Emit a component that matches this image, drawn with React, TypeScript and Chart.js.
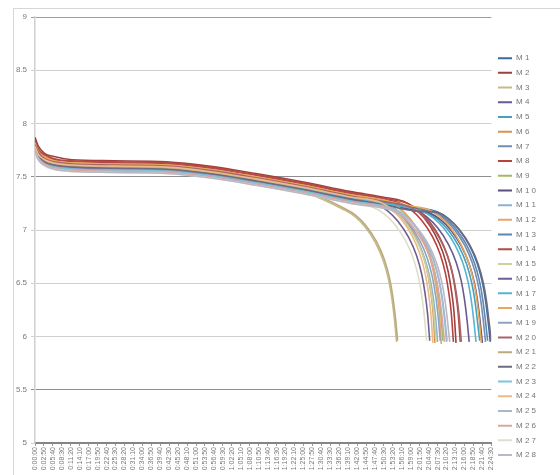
import React, { useEffect, useRef } from "react";
import { Chart, registerables } from "chart.js";

Chart.register(...registerables);

const SERIES_NAMES = [
  "M 1", "M 2", "M 3", "M 4", "M 5", "M 6", "M 7", "M 8", "M 9", "M 1 0",
  "M 1 1", "M 1 2", "M 1 3", "M 1 4", "M 1 5", "M 1 6", "M 1 7", "M 1 8", "M 1 9", "M 2 0",
  "M 2 1", "M 2 2", "M 2 3", "M 2 4", "M 2 5", "M 2 6", "M 2 7", "M 2 8",
];

const SERIES_COLORS = [
  "#3B6A9A", "#A0403C", "#C4BB8A", "#6B5A8E", "#4A9FBF", "#D9934A", "#6F8FB5", "#B8413E",
  "#A5B86A", "#5B4F7F", "#8BB2D2", "#E5A66B", "#5E87B3", "#B24A45", "#C8D49A", "#6E5E94",
  "#55B4CF", "#E8A85A", "#8EA3BF", "#A8646A", "#BCAA7C", "#6E6A80", "#7FC4D8", "#EDB98A",
  "#A9B7C9", "#D9A5A5", "#E0DEC8", "#B8B8C8",
];

const X_TICK_LABELS = [
  "0:00:00", "0:02:50", "0:05:40", "0:08:30", "0:11:20", "0:14:10", "0:17:00", "0:19:50",
  "0:22:40", "0:25:30", "0:28:20", "0:31:10", "0:34:00", "0:36:50", "0:39:40", "0:42:30",
  "0:45:20", "0:48:10", "0:51:00", "0:53:50", "0:56:40", "0:59:30", "1:02:20", "1:05:10",
  "1:08:00", "1:10:50", "1:13:40", "1:16:30", "1:19:20", "1:22:10", "1:25:00", "1:27:50",
  "1:30:40", "1:33:30", "1:36:20", "1:39:10", "1:42:00", "1:44:50", "1:47:40", "1:50:30",
  "1:53:20", "1:56:10", "1:59:00", "2:01:50", "2:04:40", "2:07:30", "2:10:20", "2:13:10",
  "2:16:00", "2:18:50", "2:21:40", "2:24:30",
];

const Y_MIN = 5;
const Y_MAX = 9;
const Y_STEP = 0.5;

// [elapsed seconds, voltage]
const M1 = [[0,7.85],[60,7.76],[180,7.69],[360,7.65],[700,7.62],[1500,7.61],[2500,7.60],[3300,7.56],[4200,7.49],[5100,7.41],[6000,7.32],[6600,7.27],[7200,7.21],[7650,7.17],[7850,7.11],[8050,7.01],[8250,6.86],[8400,6.69],[8500,6.51],[8560,6.34],[8610,6.14],[8650,5.95]];
const M2 = [[0,7.87],[60,7.79],[180,7.72],[360,7.69],[700,7.66],[1500,7.65],[2500,7.64],[3300,7.60],[4200,7.53],[5100,7.45],[6000,7.36],[6600,7.31],[7000,7.27],[7200,7.21],[7400,7.11],[7600,6.96],[7750,6.79],[7850,6.61],[7910,6.44],[7960,6.24],[8000,5.94]];
const M3 = [[0,7.78],[60,7.70],[180,7.65],[360,7.61],[700,7.59],[1500,7.58],[2500,7.57],[3300,7.53],[4200,7.46],[5100,7.36],[5870,7.19],[6070,7.13],[6270,7.03],[6470,6.88],[6620,6.71],[6720,6.53],[6780,6.36],[6830,6.16],[6870,5.95]];
const M4 = [[0,7.80],[60,7.72],[180,7.66],[360,7.62],[700,7.60],[1500,7.59],[2500,7.58],[3300,7.54],[4200,7.47],[5100,7.39],[6000,7.30],[6600,7.25],[7250,7.18],[7450,7.12],[7650,7.02],[7850,6.87],[8000,6.70],[8100,6.52],[8160,6.35],[8210,6.15],[8250,5.95]];
const M5 = [[0,7.79],[60,7.71],[180,7.65],[360,7.61],[700,7.59],[1500,7.58],[2500,7.57],[3300,7.53],[4200,7.46],[5100,7.38],[6000,7.29],[6600,7.24],[7200,7.18],[7450,7.16],[7650,7.10],[7850,7.00],[8050,6.85],[8200,6.68],[8300,6.50],[8360,6.33],[8410,6.13],[8450,5.96]];
const M6 = [[0,7.82],[60,7.74],[180,7.69],[360,7.65],[700,7.63],[1500,7.62],[2500,7.61],[3300,7.57],[4200,7.50],[5100,7.42],[6000,7.33],[6600,7.28],[6800,7.22],[7000,7.12],[7200,6.97],[7350,6.80],[7450,6.62],[7510,6.45],[7560,6.25],[7600,5.94]];
const M7 = [[0,7.80],[60,7.72],[180,7.67],[360,7.63],[700,7.61],[1500,7.60],[2500,7.59],[3300,7.55],[4200,7.48],[5100,7.40],[6000,7.31],[6600,7.26],[7200,7.20],[7560,7.17],[7760,7.11],[7960,7.01],[8160,6.86],[8310,6.69],[8410,6.51],[8470,6.34],[8520,6.14],[8560,5.95]];
const M8 = [[0,7.83],[60,7.75],[180,7.70],[360,7.66],[700,7.64],[1500,7.63],[2500,7.62],[3300,7.58],[4200,7.51],[5100,7.43],[6000,7.34],[6600,7.29],[6950,7.25],[7150,7.19],[7350,7.09],[7550,6.94],[7700,6.77],[7800,6.59],[7860,6.42],[7910,6.22],[7950,5.95]];
const M9 = [[0,7.80],[60,7.73],[180,7.67],[360,7.64],[700,7.62],[1500,7.61],[2500,7.60],[3300,7.56],[4200,7.49],[5100,7.41],[6000,7.32],[6750,7.25],[6950,7.19],[7150,7.09],[7350,6.94],[7500,6.77],[7600,6.59],[7660,6.42],[7710,6.22],[7750,5.96]];
const M10 = [[0,7.78],[60,7.71],[180,7.65],[360,7.62],[700,7.60],[1500,7.59],[2500,7.58],[3300,7.54],[4200,7.47],[5100,7.39],[6000,7.30],[6600,7.25],[7200,7.19],[7500,7.16],[7700,7.10],[7900,7.00],[8100,6.85],[8250,6.68],[8350,6.50],[8410,6.33],[8460,6.13],[8500,5.94]];
const M11 = [[0,7.76],[60,7.69],[180,7.63],[360,7.60],[700,7.58],[1500,7.57],[2500,7.56],[3300,7.52],[4200,7.45],[5100,7.37],[6000,7.28],[6650,7.22],[6850,7.16],[7050,7.06],[7250,6.91],[7400,6.74],[7500,6.56],[7560,6.39],[7610,6.19],[7650,5.95]];
const M12 = [[0,7.81],[60,7.74],[180,7.68],[360,7.65],[700,7.63],[1500,7.62],[2500,7.61],[3300,7.57],[4200,7.50],[5100,7.42],[6000,7.33],[6720,7.27],[6920,7.21],[7120,7.11],[7320,6.96],[7470,6.79],[7570,6.61],[7630,6.44],[7680,6.24],[7720,5.93]];
const M13 = [[0,7.80],[60,7.72],[180,7.67],[360,7.63],[700,7.61],[1500,7.60],[2500,7.59],[3300,7.55],[4200,7.48],[5100,7.40],[6000,7.31],[6600,7.26],[7200,7.20],[7600,7.17],[7800,7.11],[8000,7.01],[8200,6.86],[8350,6.69],[8450,6.51],[8510,6.34],[8560,6.14],[8600,5.96]];
const M14 = [[0,7.84],[60,7.76],[180,7.71],[360,7.67],[700,7.65],[1500,7.64],[2500,7.63],[3300,7.59],[4200,7.52],[5100,7.44],[6000,7.35],[6600,7.30],[7080,7.25],[7280,7.19],[7480,7.09],[7680,6.94],[7830,6.77],[7930,6.59],[7990,6.42],[8040,6.22],[8080,5.95]];
const M15 = [[0,7.77],[60,7.70],[180,7.64],[360,7.61],[700,7.59],[1500,7.58],[2500,7.57],[3300,7.53],[4200,7.46],[5100,7.38],[6000,7.29],[6620,7.24],[6820,7.18],[7020,7.08],[7220,6.93],[7370,6.76],[7470,6.58],[7530,6.41],[7580,6.21],[7620,5.95]];
const M16 = [[0,7.77],[60,7.69],[180,7.64],[360,7.60],[700,7.58],[1500,7.57],[2500,7.56],[3300,7.52],[4200,7.45],[5100,7.37],[6000,7.28],[6500,7.24],[6700,7.18],[6900,7.08],[7100,6.93],[7250,6.76],[7350,6.58],[7410,6.41],[7460,6.21],[7500,5.96]];
const M17 = [[0,7.79],[60,7.71],[180,7.66],[360,7.62],[700,7.60],[1500,7.59],[2500,7.58],[3300,7.54],[4200,7.47],[5100,7.39],[6000,7.30],[6600,7.25],[7380,7.17],[7580,7.11],[7780,7.01],[7980,6.86],[8130,6.69],[8230,6.51],[8290,6.34],[8340,6.14],[8380,5.95]];
const M18 = [[0,7.82],[60,7.74],[180,7.69],[360,7.65],[700,7.63],[1500,7.62],[2500,7.61],[3300,7.57],[4200,7.50],[5100,7.42],[6000,7.33],[6600,7.28],[7200,7.22],[7480,7.19],[7680,7.13],[7880,7.03],[8080,6.88],[8230,6.71],[8330,6.53],[8390,6.36],[8440,6.16],[8480,5.94]];
const M19 = [[0,7.76],[60,7.69],[180,7.63],[360,7.60],[700,7.58],[1500,7.57],[2500,7.56],[3300,7.52],[4200,7.45],[5100,7.37],[6000,7.28],[6700,7.22],[6900,7.16],[7100,7.06],[7300,6.91],[7450,6.74],[7550,6.56],[7610,6.39],[7660,6.19],[7700,5.96]];
const M20 = [[0,7.80],[60,7.73],[180,7.67],[360,7.64],[700,7.62],[1500,7.61],[2500,7.60],[3300,7.56],[4200,7.49],[5100,7.41],[6000,7.32],[6600,7.27],[7100,7.22],[7300,7.16],[7500,7.06],[7700,6.91],[7850,6.74],[7950,6.56],[8010,6.39],[8060,6.19],[8100,5.95]];
const M21 = [[0,7.79],[60,7.71],[180,7.66],[360,7.62],[700,7.60],[1500,7.59],[2500,7.58],[3300,7.54],[4200,7.47],[5100,7.37],[5890,7.20],[6090,7.14],[6290,7.04],[6490,6.89],[6640,6.72],[6740,6.54],[6800,6.37],[6850,6.17],[6890,5.96]];
const M22 = [[0,7.77],[60,7.70],[180,7.64],[360,7.61],[700,7.59],[1500,7.58],[2500,7.57],[3300,7.53],[4200,7.46],[5100,7.38],[6000,7.29],[6600,7.24],[7200,7.18],[7670,7.16],[7870,7.10],[8070,7.00],[8270,6.85],[8420,6.68],[8520,6.50],[8580,6.33],[8630,6.13],[8670,5.96]];
const M23 = [[0,7.75],[60,7.68],[180,7.62],[360,7.59],[700,7.57],[1500,7.56],[2500,7.55],[3300,7.51],[4200,7.44],[5100,7.36],[6000,7.27],[6820,7.20],[7020,7.14],[7220,7.04],[7420,6.89],[7570,6.72],[7670,6.54],[7730,6.37],[7780,6.17],[7820,5.95]];
const M24 = [[0,7.78],[60,7.71],[180,7.66],[360,7.63],[700,7.61],[1500,7.60],[2500,7.59],[3300,7.55],[4200,7.48],[5100,7.40],[6000,7.31],[6560,7.26],[6760,7.20],[6960,7.10],[7160,6.95],[7310,6.78],[7410,6.60],[7470,6.43],[7520,6.23],[7560,5.94]];
const M25 = [[0,7.74],[60,7.67],[180,7.61],[360,7.58],[700,7.56],[1500,7.55],[2500,7.54],[3300,7.50],[4200,7.43],[5100,7.35],[6000,7.26],[6830,7.19],[7030,7.13],[7230,7.03],[7430,6.88],[7580,6.71],[7680,6.53],[7740,6.36],[7790,6.16],[7830,5.96]];
const M26 = [[0,7.75],[60,7.67],[180,7.62],[360,7.58],[700,7.56],[1500,7.55],[2500,7.54],[3300,7.50],[4200,7.43],[5100,7.35],[6000,7.26],[6780,7.19],[6980,7.13],[7180,7.03],[7380,6.88],[7530,6.71],[7630,6.53],[7690,6.36],[7740,6.16],[7780,5.95]];
const M27 = [[0,7.73],[60,7.66],[180,7.60],[360,7.57],[700,7.55],[1500,7.54],[2500,7.53],[3300,7.49],[4200,7.42],[5100,7.34],[6000,7.25],[6440,7.21],[6640,7.15],[6840,7.05],[7040,6.90],[7190,6.73],[7290,6.55],[7350,6.38],[7400,6.18],[7440,5.96]];
const M28 = [[0,7.74],[60,7.66],[180,7.61],[360,7.57],[700,7.55],[1500,7.54],[2500,7.53],[3300,7.49],[4200,7.42],[5100,7.34],[6000,7.25],[6880,7.17],[7080,7.11],[7280,7.01],[7480,6.86],[7630,6.69],[7730,6.51],[7790,6.34],[7840,6.14],[7880,5.95]];

const SERIES_DATA = [
  M1, M2, M3, M4, M5, M6, M7, M8, M9, M10, M11, M12, M13, M14,
  M15, M16, M17, M18, M19, M20, M21, M22, M23, M24, M25, M26, M27, M28,
];

function toSeconds(label: string): number {
  const [h, m, s] = label.split(":").map(Number);
  return h * 3600 + m * 60 + s;
}

const FONT = "'Liberation Sans', Arial, sans-serif";

export default function App() {
  const canvasRef = useRef<HTMLCanvasElement | null>(null);

  useEffect(() => {
    if (!canvasRef.current) return;
    const tickSeconds = X_TICK_LABELS.map(toSeconds);
    const labelBySecond = new Map<number, string>();
    X_TICK_LABELS.forEach((l, i) => labelBySecond.set(tickSeconds[i], l));

    const datasets = SERIES_DATA.map((series, i) => ({
      label: SERIES_NAMES[i],
      data: series.map(([x, y]) => ({ x, y })),
      borderColor: SERIES_COLORS[i],
      backgroundColor: SERIES_COLORS[i],
      borderWidth: 1.6,
      pointRadius: 0,
      pointHoverRadius: 0,
      cubicInterpolationMode: "monotone" as const,
      fill: false,
      order: SERIES_DATA.length - i,
    }));

    const chart = new Chart(canvasRef.current, {
      type: "line",
      data: { datasets },
      options: {
        animation: false,
        responsive: false,
        maintainAspectRatio: false,
        layout: { padding: { left: 0, top: 17, right: 14, bottom: 0 } },
        plugins: {
          tooltip: { enabled: false },
          legend: {
            position: "right",
            align: "center",
            title: {
              display: true,
              text: "",
              font: { size: 1 },
              padding: { top: 10, bottom: 10 },
            },
            labels: {
              boxWidth: 14,
              boxHeight: 2,
              padding: 6.7,
              color: "#777777",
              font: { family: FONT, size: 8 },
              sort: (a: any, b: any) => a.datasetIndex - b.datasetIndex,
              generateLabels: (c: any) =>
                Chart.defaults.plugins.legend.labels
                  .generateLabels(c)
                  .map((l: any) => ({ ...l, lineWidth: 0 })),
            },
          },
        },
        scales: {
          x: {
            type: "linear",
            min: tickSeconds[0],
            max: tickSeconds[tickSeconds.length - 1],
            afterBuildTicks: (scale: any) => {
              scale.ticks = tickSeconds.map((v) => ({ value: v }));
            },
            afterFit: (scale: any) => {
              scale.height = 32;
            },
            ticks: {
              autoSkip: false,
              minRotation: 90,
              maxRotation: 90,
              padding: 1,
              color: "#7a7a7a",
              font: { family: FONT, size: 7 },
              callback: (v: any) => labelBySecond.get(Number(v)) ?? "",
            },
            grid: {
              drawOnChartArea: false,
              drawTicks: true,
              tickLength: 3,
              tickColor: "#9a9a9a",
            },
            border: { display: true, color: "#858585", width: 2 },
          },
          y: {
            type: "linear",
            min: Y_MIN,
            max: Y_MAX,
            afterFit: (scale: any) => {
              scale.width = 35;
            },
            ticks: {
              stepSize: Y_STEP,
              padding: 4,
              color: "#7a7a7a",
              font: { family: FONT, size: 8 },
              callback: (v: any) => String(Number(v)),
            },
            grid: {
              drawTicks: true,
              tickLength: 4,
              lineWidth: 1,
              color: (ctx: any) => {
                const v = ctx.tick ? ctx.tick.value : null;
                if (v === 7.5 || v === 5.5) return "#8e8e8e";
                if (v === 9) return "#9c9c9c";
                return "#cfcfcf";
              },
            },
            border: { display: true, color: "#cfcfcf", width: 1.5 },
          },
        },
      },
    });

    return () => chart.destroy();
  }, []);

  return (
    <div
      style={{
        position: "fixed",
        left: 0,
        top: 0,
        width: 560,
        height: 475,
        background: "#ffffff",
        overflow: "hidden",
      }}
    >
      <div
        style={{
          position: "absolute",
          left: 13,
          top: 8,
          width: 600,
          height: 520,
          border: "1px solid #d6d6d6",
          boxSizing: "border-box",
        }}
      />
      <canvas
        ref={canvasRef}
        width={560}
        height={475}
        style={{ position: "absolute", left: 0, top: 0, width: 560, height: 475 }}
      />
    </div>
  );
}
